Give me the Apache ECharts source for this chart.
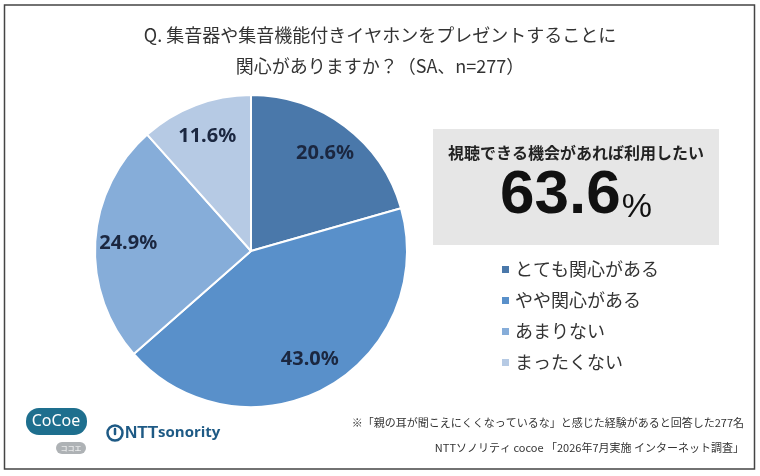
<!DOCTYPE html>
<html>
<head>
<meta charset="utf-8">
<script src="https://cdn.jsdelivr.net/npm/echarts@6/dist/echarts.min.js"></script>
<style>
  html, body { margin: 0; padding: 0; background: #fff; }
  #chart { width: 760px; height: 476px; }
</style>
</head>
<body>
<div id="chart"></div>
<script>
// answers, in the order the pie runs clockwise from 12 o'clock
const categories = ['とても関心がある', 'やや関心がある', 'あまりない', 'まったくない'];
const shares = [20.6, 43.0, 24.9, 11.6];
const sliceColors = ['#4a78aa', '#5990ca', '#86add9', '#b6cae4'];

const headline = '視聴できる機会があれば利用したい';
const headlineValue = 63.6;
const footnotes = [
  '※「親の耳が聞こえにくくなっているな」と感じた経験があると回答した277名',
  'NTTソノリティ cocoe 「2026年7月実施 インターネット調査」'
];

const JP = '"Noto Sans CJK JP", "Noto Sans", sans-serif';
const pieData = categories.map((name, i) => ({ name, value: shares[i] }));

const chart = echarts.init(document.getElementById('chart'));

const option = {
  backgroundColor: '#fff',
  color: sliceColors,
  animation: false,
  title: {
    text: 'Q. 集音器や集音機能付きイヤホンをプレゼントすることに\n関心がありますか？（SA、n=277）',
    left: 'center',
    top: 15,
    textStyle: {
      fontFamily: JP,
      fontSize: 18,
      fontWeight: 'normal',
      color: '#333',
      lineHeight: 31
    }
  },
  legend: {
    orient: 'vertical',
    left: 495,
    top: 255,
    icon: 'rect',
    itemWidth: 9,
    itemHeight: 9,
    itemGap: 12,
    data: categories,
    textStyle: {
      fontFamily: JP,
      fontSize: 18,
      color: '#333',
      lineHeight: 19
    }
  },
  series: [
    {
      type: 'pie',
      center: [251, 251],
      radius: [0, 156],
      startAngle: 90,
      clockwise: true,
      silent: true,
      itemStyle: { borderColor: '#fff', borderWidth: 2 },
      label: { show: false },
      labelLine: { show: false },
      data: pieData
    },
    {
      // transparent ring only used to place the labels further out
      type: 'pie',
      center: [251, 251],
      radius: [84, 156],
      startAngle: 90,
      clockwise: true,
      silent: true,
      itemStyle: { color: 'rgba(0,0,0,0)', borderWidth: 0 },
      label: {
        show: true,
        position: 'inside',
        formatter: p => p.value.toFixed(1) + '%',
        fontFamily: '"Noto Sans", sans-serif',
        fontSize: 20,
        fontWeight: 'bold',
        color: '#1b2740'
      },
      labelLine: { show: false },
      data: pieData
    }
  ],
  graphic: [
    {
      type: 'rect',
      shape: { x: 4.5, y: 5, width: 750, height: 464 },
      style: { fill: 'none', stroke: '#444', lineWidth: 1.5 },
      silent: true
    },
    {
      type: 'rect',
      shape: { x: 433, y: 129, width: 286, height: 116 },
      style: { fill: '#e6e6e6' },
      silent: true
    },
    {
      type: 'text',
      x: 576,
      y: 153,
      style: {
        text: headline,
        fontFamily: JP,
        fontSize: 16,
        fontWeight: 'bold',
        fill: '#222',
        align: 'center',
        verticalAlign: 'middle'
      }
    },
    {
      type: 'text',
      x: 576,
      y: 196,
      style: {
        text: '{n|' + headlineValue.toFixed(1) + '}{p|%}',
        align: 'center',
        verticalAlign: 'middle',
        rich: {
          n: {
            fontFamily: '"Liberation Sans", Arial, sans-serif',
            fontSize: 62,
            fontWeight: 'bold',
            fill: '#111',
            verticalAlign: 'bottom'
          },
          p: {
            fontFamily: '"Liberation Sans", Arial, sans-serif',
            fontSize: 34,
            fill: '#111',
            verticalAlign: 'bottom',
            padding: [0, 0, 2, 1]
          }
        }
      }
    },
    {
      type: 'text',
      x: 744,
      y: 423,
      style: {
        text: footnotes[0],
        fontFamily: JP,
        fontSize: 11,
        fill: '#333',
        align: 'right',
        verticalAlign: 'middle'
      }
    },
    {
      type: 'text',
      x: 744,
      y: 448,
      style: {
        text: footnotes[1],
        fontFamily: JP,
        fontSize: 11,
        fill: '#333',
        align: 'right',
        verticalAlign: 'middle'
      }
    },
    // CoCoe logo
    {
      type: 'rect',
      shape: { x: 26, y: 408, width: 61, height: 27, r: 13 },
      style: { fill: '#1e6f8e' },
      silent: true
    },
    {
      type: 'text',
      x: 56,
      y: 421,
      style: {
        text: 'CoCoe',
        fontFamily: '"Noto Sans", sans-serif',
        fontSize: 16,
        fill: '#fff',
        align: 'center',
        verticalAlign: 'middle'
      }
    },
    {
      type: 'rect',
      shape: { x: 56, y: 442, width: 30, height: 12, r: 6 },
      style: { fill: '#aeb2b5' },
      silent: true
    },
    {
      type: 'text',
      x: 71,
      y: 448,
      style: {
        text: 'ココエ',
        fontFamily: JP,
        fontSize: 7,
        fill: '#fff',
        align: 'center',
        verticalAlign: 'middle'
      }
    },
    // NTT sonority logo
    {
      type: 'circle',
      shape: { cx: 115, cy: 433, r: 7.5 },
      style: { fill: 'none', stroke: '#1e5a85', lineWidth: 2.5 },
      silent: true
    },
    {
      type: 'line',
      shape: { x1: 115, y1: 429, x2: 115, y2: 434 },
      style: { stroke: '#1e5a85', lineWidth: 2.5, lineCap: 'round' },
      silent: true
    },
    {
      type: 'text',
      x: 125,
      y: 433,
      style: {
        text: '{a|NTT}{b|sonority}',
        verticalAlign: 'middle',
        rich: {
          a: {
            fontFamily: '"Liberation Sans", Arial, sans-serif',
            fontSize: 17,
            fontWeight: 'bold',
            fill: '#1e5a85'
          },
          b: {
            fontFamily: '"Open Sans", sans-serif',
            fontSize: 15,
            fontWeight: 'bold',
            fill: '#1e5a85'
          }
        }
      }
    }
  ]
};

chart.setOption(option);
</script>
</body>
</html>
